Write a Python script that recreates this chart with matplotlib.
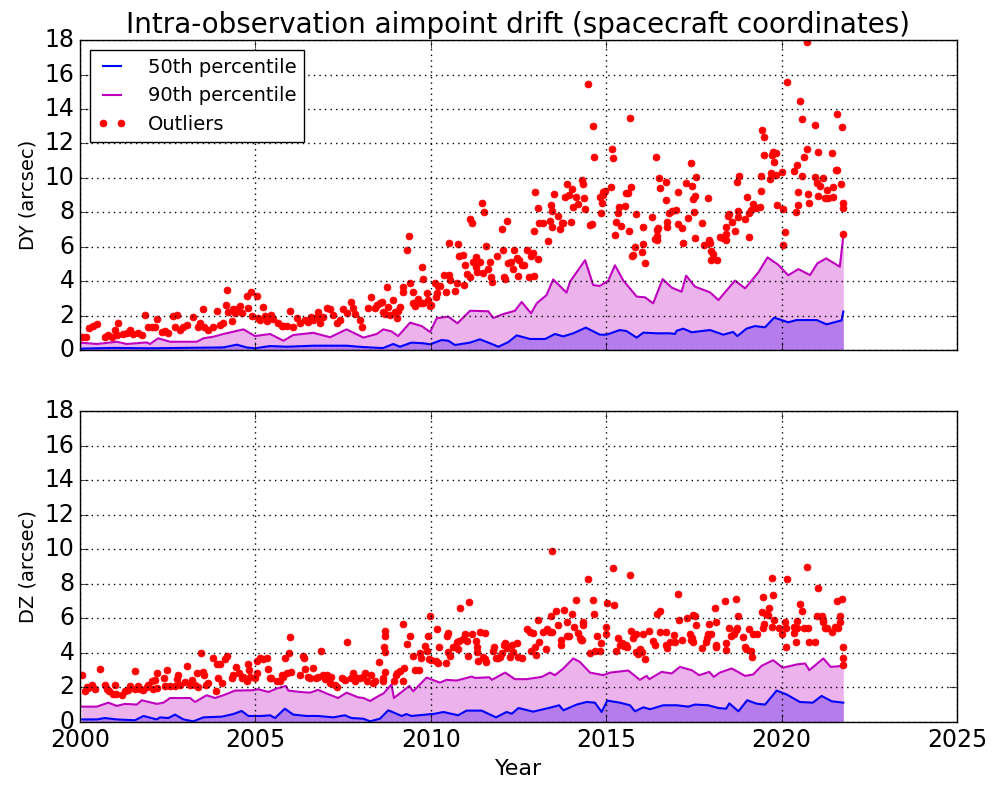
import matplotlib
matplotlib.use("Agg")
import matplotlib.pyplot as plt
import numpy as np

plt.style.use("classic")

# ---- DY (top panel) ----
dy_t90 = [2000.0, 2000.48, 2001.05, 2001.33, 2001.9, 2002.0, 2002.23, 2002.57, 2003.33, 2003.52,
          2003.8, 2004.09, 2004.66, 2004.99, 2005.42, 2005.8, 2006.08, 2006.65, 2007.13, 2007.6,
          2008.08, 2008.46, 2008.65, 2008.88, 2009.07, 2009.41, 2009.74, 2009.98, 2010.17, 2010.5,
          2010.76, 2011.12, 2011.64, 2011.78, 2012.07, 2012.4, 2012.59, 2012.86, 2013.02, 2013.3,
          2013.49, 2013.87, 2013.97, 2014.4, 2014.63, 2014.82, 2015.06, 2015.25, 2015.49, 2015.87,
          2016.11, 2016.34, 2016.61, 2016.87, 2017.15, 2017.28, 2017.53, 2017.96, 2018.2, 2018.67,
          2018.96, 2019.34, 2019.6, 2019.91, 2020.19, 2020.48, 2020.81, 2021.02, 2021.27, 2021.66,
          2021.76]
dy_p90 = [0.43, 0.35, 0.48, 0.35, 0.44, 0.35, 0.68, 0.48, 0.48, 0.68,
          0.77, 0.93, 1.20, 0.81, 0.93, 0.54, 0.87, 1.00, 0.74, 1.20,
          0.72, 0.93, 1.20, 1.08, 0.81, 1.59, 1.39, 1.05, 1.84, 1.94,
          1.55, 2.28, 2.25, 1.86, 2.09, 2.28, 2.79, 2.13, 2.71, 3.19,
          4.10, 3.33, 3.97, 5.22, 3.77, 3.72, 4.03, 4.92, 4.03, 3.10,
          3.06, 2.71, 4.12, 3.62, 3.39, 4.32, 3.68, 3.35, 2.90, 4.03,
          3.58, 4.51, 5.38, 4.94, 4.34, 4.70, 4.35, 5.03, 5.32, 4.84,
          6.62]

dy_t50 = [2000.0, 2000.95, 2002.0, 2002.85, 2004.09, 2004.47, 2004.75, 2004.99, 2005.42, 2005.89,
          2006.65, 2007.6, 2008.08, 2008.55, 2008.65, 2008.93, 2009.12, 2009.45, 2009.79, 2009.98,
          2010.31, 2010.5, 2010.69, 2011.12, 2011.4, 2011.69, 2011.93, 2012.21, 2012.45, 2012.83,
          2013.26, 2013.54, 2013.78, 2014.06, 2014.42, 2014.82, 2015.01, 2015.39, 2015.58, 2015.87,
          2016.06, 2016.44, 2016.82, 2016.96, 2017.01, 2017.2, 2017.44, 2017.96, 2018.34, 2018.62,
          2018.74, 2019.0, 2019.24, 2019.53, 2019.79, 2020.19, 2020.43, 2021.0, 2021.285, 2021.71,
          2021.76]
dy_p50 = [0.08, 0.12, 0.10, 0.12, 0.15, 0.31, 0.15, 0.10, 0.23, 0.19,
          0.25, 0.25, 0.17, 0.12, 0.12, 0.35, 0.19, 0.43, 0.39, 0.33,
          0.58, 0.54, 0.29, 0.43, 0.62, 0.39, 0.19, 0.46, 0.85, 0.64,
          0.64, 0.93, 0.79, 0.97, 1.30, 0.89, 0.89, 1.16, 1.10, 0.72,
          1.01, 0.97, 0.97, 0.93, 1.12, 1.24, 1.03, 1.16, 0.89, 1.05,
          0.81, 1.24, 1.39, 1.32, 1.88, 1.61, 1.74, 1.74, 1.49, 1.72,
          2.23]

dy_out_t = [
    2000.05, 2000.17, 2000.27, 2000.38, 2000.49, 2000.71, 2000.81, 2000.90, 2001.00, 2001.06,
    2001.09, 2001.24, 2001.33, 2001.43, 2001.52, 2001.66, 2001.76, 2001.85, 2001.95, 2002.04,
    2002.14, 2002.19, 2002.33, 2002.42, 2002.52, 2002.66, 2002.71, 2002.76, 2002.85, 2002.95,
    2003.04, 2003.23, 2003.37, 2003.42, 2003.50, 2003.53, 2003.66, 2003.80, 2003.90, 2003.99,
    2004.09, 2004.15, 2004.18, 2004.23, 2004.32, 2004.37, 2004.42, 2004.47, 2004.56, 2004.61,
    2004.75, 2004.80, 2004.87, 2004.89, 2005.04, 2005.08, 2005.13, 2005.21, 2005.27, 2005.32,
    2005.37, 2005.46, 2005.51, 2005.65, 2005.75, 2005.80, 2005.89, 2005.99, 2006.08, 2006.18,
    2006.27, 2006.41, 2006.51, 2006.60, 2006.65, 2006.75, 2006.79, 2006.84, 2006.94, 2007.03,
    2007.13, 2007.22, 2007.32, 2007.41, 2007.51, 2007.60, 2007.74, 2007.79, 2007.84, 2007.98,
    2008.03, 2008.22, 2008.31, 2008.41, 2008.46, 2008.55,
    2008.62, 2008.65, 2008.69, 2008.76, 2008.79, 2008.84, 2008.93, 2008.98, 2009.03, 2009.07,
    2009.12, 2009.22, 2009.21, 2009.33, 2009.39, 2009.41, 2009.48, 2009.50, 2009.55, 2009.64,
    2009.69, 2009.74, 2009.77, 2009.79, 2009.90, 2009.93, 2009.98, 2010.02, 2010.12, 2010.17,
    2010.16, 2010.21, 2010.26, 2010.38, 2010.43, 2010.52, 2010.53, 2010.55, 2010.69, 2010.76,
    2010.79, 2010.81, 2010.91, 2010.95, 2010.98, 2011.02, 2011.12, 2011.11, 2011.17, 2011.21,
    2011.29, 2011.30, 2011.31, 2011.40, 2011.45, 2011.50, 2011.52, 2011.57, 2011.64, 2011.69,
    2011.71, 2011.74, 2011.88, 2012.03, 2012.07, 2012.09, 2012.12, 2012.16, 2012.21, 2012.30,
    2012.35, 2012.37, 2012.45, 2012.50, 2012.52, 2012.59, 2012.66, 2012.75, 2012.81, 2012.85,
    2012.90, 2012.94, 2012.96, 2012.95, 2013.07, 2013.06, 2013.09, 2013.21, 2013.33, 2013.40,
    2013.43, 2013.45, 2013.47, 2013.52, 2013.64, 2013.68, 2013.73, 2013.78, 2013.83, 2013.89,
    2013.94, 2013.99, 2014.02, 2014.06, 2014.14, 2014.21, 2014.32, 2014.35, 2014.36, 2014.40,
    2014.49, 2014.54, 2014.61, 2014.63, 2014.65, 2014.82, 2014.84, 2014.87, 2014.90, 2014.92,
    2014.97, 2015.13, 2015.18, 2015.19, 2015.25, 2015.28, 2015.35, 2015.37, 2015.41, 2015.54,
    2015.56, 2015.63, 2015.66, 2015.68, 2015.72, 2015.73, 2015.77, 2015.83, 2015.84, 2016.01,
    2016.04, 2016.05, 2016.10, 2016.30, 2016.39, 2016.42, 2016.44, 2016.45, 2016.46, 2016.49,
    2016.51, 2016.53, 2016.70, 2016.71, 2016.72, 2016.74, 2016.80,
    2016.89, 2016.99, 2017.06, 2017.05, 2017.17, 2017.18, 2017.28, 2017.34, 2017.41, 2017.44,
    2017.47, 2017.51, 2017.55, 2017.54, 2017.53, 2017.72, 2017.79, 2017.89, 2017.94, 2017.95,
    2017.98, 2018.05, 2017.99, 2018.15, 2018.24, 2018.32, 2018.43, 2018.42, 2018.41, 2018.48,
    2018.51, 2018.58, 2018.67, 2018.72, 2018.75, 2018.77, 2018.78, 2018.96, 2019.02, 2019.06,
    2019.08, 2019.12, 2019.19, 2019.27, 2019.38, 2019.40, 2019.41, 2019.43, 2019.50, 2019.49,
    2019.67, 2019.72, 2019.71, 2019.76, 2019.78, 2019.84, 2019.85, 2019.86, 2020.00, 2020.05,
    2020.04, 2020.10, 2020.15, 2020.35, 2020.43, 2020.42, 2020.46, 2020.47, 2020.52, 2020.57,
    2020.58, 2020.65, 2020.73, 2020.76, 2020.78, 2020.72, 2020.94, 2020.95, 2021.03, 2021.02,
    2021.05, 2021.10, 2021.17, 2021.24, 2021.285, 2021.33, 2021.43, 2021.46, 2021.47, 2021.55,
    2021.57, 2021.59, 2021.68, 2021.71, 2021.74, 2021.76, 2021.745]
dy_out_v = [
    0.77, 0.77, 1.26, 1.41, 1.51, 0.77, 0.87, 0.77, 1.16, 0.87,
    1.59, 0.93, 0.97, 1.16, 0.93, 1.01, 0.89, 2.01, 1.32, 1.35,
    1.35, 1.82, 1.06, 1.12, 0.97, 1.97, 1.35, 2.01, 1.16, 1.35,
    1.45, 1.94, 1.32, 1.59, 2.36, 1.35, 1.16, 1.35, 2.28, 1.43,
    1.59, 2.59, 3.48, 2.23, 1.70, 2.36, 2.17, 2.36, 2.55, 2.13,
    3.14, 2.42, 3.35, 1.97, 3.14, 1.84, 1.74, 2.52, 1.97, 1.70,
    1.94, 2.01, 1.78, 1.55, 1.39, 1.39, 1.39, 2.28, 1.35, 1.84,
    1.59, 1.74, 1.63, 1.94, 1.74, 1.94, 2.23, 1.59, 1.94, 2.42,
    2.36, 2.03, 1.55, 1.74, 2.36, 2.13, 2.81, 2.42, 2.09, 1.74,
    1.35, 2.42, 3.06, 2.42, 2.61, 2.71,
    2.79, 2.23, 2.09, 3.64, 2.52, 2.01, 2.90, 2.23, 1.86, 2.28,
    2.52, 3.64, 3.39, 5.81, 6.62, 3.87, 3.39, 2.71, 2.55, 2.94,
    2.71, 4.80, 2.75, 4.10, 3.29, 2.90, 2.57, 2.61, 3.91, 3.29,
    3.06, 3.72, 3.74, 4.34, 3.39, 6.23, 4.34, 4.06, 3.44, 3.91,
    6.15, 5.46, 5.52, 3.77, 4.92, 4.39, 4.26, 7.59, 7.35, 5.09,
    5.42, 4.80, 4.55, 5.13, 8.52, 4.45, 7.99, 6.04, 4.72, 5.13,
    4.22, 3.97, 5.46, 7.01, 5.81, 4.26, 4.12, 7.51, 5.03, 5.13,
    4.68, 5.81, 5.32, 4.30, 5.23, 4.94, 4.94, 5.81, 4.22, 5.46,
    5.61, 4.32, 9.17, 6.93, 8.26, 5.26, 7.39, 7.39, 6.35, 7.51,
    8.44, 8.09, 7.12, 9.06, 7.78, 7.01, 7.39, 7.39, 8.90, 9.64,
    8.98, 7.45, 9.37, 8.28, 8.90, 8.48, 9.87, 9.64, 8.81, 8.19,
    15.44, 7.26, 7.32, 13.01, 11.23, 8.90, 7.97, 8.55, 9.02, 9.19,
    9.25, 9.48, 11.65, 11.15, 6.68, 7.45, 7.94, 8.28, 7.20, 8.38,
    9.10, 9.10, 6.93, 13.47, 9.44, 5.46, 5.52, 5.96, 7.90, 5.67,
    7.16, 6.15, 5.07, 7.74, 6.46, 11.23, 6.62, 6.39, 6.97, 7.06,
    9.97, 9.39, 9.77, 8.71, 7.45, 7.16, 7.97,
    8.09, 8.13, 9.15, 7.30, 7.10, 6.23, 9.68, 7.64, 10.88, 9.52,
    8.75, 8.01, 10.06, 8.94, 6.48, 7.39, 6.12, 8.81, 6.39, 6.19,
    5.77, 5.57, 5.23, 5.23, 6.54, 6.48, 6.39, 6.74, 7.16, 7.78,
    7.90, 7.45, 6.93, 9.77, 7.74, 8.09, 10.10, 7.59, 8.90, 6.54,
    7.94, 8.13, 8.46, 8.23, 8.28, 9.23, 10.12, 12.77, 12.39, 11.30,
    9.91, 11.30, 10.30, 11.48, 10.94, 11.46, 10.16, 8.42, 10.32, 8.17,
    6.10, 6.83, 15.58, 10.39, 10.74, 8.03, 8.42, 9.19, 14.48, 13.39,
    10.10, 11.19, 11.65, 9.06, 8.55, 17.90, 13.06, 10.06, 11.50, 9.72,
    8.94, 9.52, 10.01, 8.84, 9.29, 8.83, 11.42, 8.86, 9.44, 10.45,
    13.68, 10.45, 9.64, 12.93, 8.55, 8.23, 6.74]

# ---- DZ (bottom panel) ----
dz_t90 = [2000.05, 2000.48, 2000.81, 2001.05, 2001.28, 2001.62, 2001.76, 2002.19, 2002.38, 2002.57,
          2003.14, 2003.28, 2003.61, 2003.85, 2004.09, 2004.42, 2004.94, 2005.08, 2005.37, 2005.61,
          2005.87, 2005.94, 2006.27, 2006.56, 2006.79, 2007.03, 2007.36, 2007.6, 2007.93, 2008.08,
          2008.27, 2008.55, 2008.65, 2008.88, 2008.95, 2009.17, 2009.39, 2009.5, 2009.88, 2010.26,
          2010.45, 2010.74, 2011.17, 2011.26, 2011.67, 2011.74, 2012.12, 2012.4, 2012.73, 2013.16,
          2013.4, 2013.54, 2013.78, 2014.06, 2014.25, 2014.54, 2014.92, 2015.11, 2015.63, 2015.96,
          2016.15, 2016.23, 2016.58, 2016.87, 2017.1, 2017.44, 2017.65, 2017.94, 2018.07, 2018.24,
          2018.58, 2018.96, 2019.19, 2019.43, 2019.76, 2020.03, 2020.43, 2020.67, 2020.79, 2021.19,
          2021.4, 2021.76]
dz_p90 = [0.89, 0.89, 1.12, 0.93, 1.05, 1.01, 1.26, 1.05, 1.12, 1.39,
          1.39, 1.16, 1.55, 1.39, 1.55, 1.82, 1.84, 1.90, 1.74, 1.94,
          2.09, 1.82, 1.74, 1.70, 1.86, 1.65, 1.39, 1.70, 1.43, 1.39,
          1.22, 1.55, 1.65, 2.17, 1.39, 1.74, 2.09, 1.78, 2.57, 2.28,
          2.44, 2.40, 2.63, 2.55, 2.59, 2.44, 2.86, 2.48, 2.48, 2.61,
          2.86, 2.71, 3.10, 3.68, 3.48, 2.86, 2.71, 2.86, 2.98, 2.44,
          2.67, 2.48, 2.90, 2.81, 3.19, 3.00, 2.71, 2.90, 2.61, 2.86,
          3.10, 2.67, 2.75, 3.25, 3.58, 3.14, 3.33, 3.39, 3.00, 3.68,
          3.19, 3.25]

dz_t50 = [2000.05, 2000.48, 2000.71, 2001.05, 2001.57, 2001.81, 2002.19, 2002.28, 2002.52, 2002.71,
          2002.95, 2003.23, 2003.52, 2004.04, 2004.37, 2004.61, 2004.8, 2005.18, 2005.42, 2005.56,
          2005.84, 2006.08, 2006.46, 2006.79, 2007.22, 2007.55, 2007.74, 2008.08, 2008.27, 2008.55,
          2008.79, 2009.17, 2009.31, 2009.45, 2010.12, 2010.36, 2010.78, 2011.02, 2011.45, 2011.86,
          2012.16, 2012.31, 2012.5, 2012.92, 2013.4, 2013.66, 2013.78, 2014.16, 2014.44, 2014.68,
          2014.87, 2015.03, 2015.39, 2015.68, 2015.82, 2016.06, 2016.25, 2016.63, 2017.01, 2017.34,
          2017.53, 2017.91, 2018.2, 2018.42, 2018.51, 2018.77, 2019.02, 2019.29, 2019.53, 2019.86,
          2020.15, 2020.52, 2020.89, 2021.14, 2021.43, 2021.76]
dz_p50 = [0.15, 0.15, 0.23, 0.15, 0.10, 0.35, 0.15, 0.27, 0.23, 0.43,
          0.15, 0.04, 0.27, 0.31, 0.46, 0.64, 0.35, 0.35, 0.39, 0.23,
          0.77, 0.43, 0.35, 0.35, 0.27, 0.39, 0.23, 0.19, 0.04, 0.19,
          0.68, 0.35, 0.46, 0.35, 0.48, 0.58, 0.39, 0.66, 0.66, 0.27,
          0.58, 0.48, 0.81, 0.60, 0.83, 0.97, 0.68, 1.01, 1.16, 1.12,
          0.58, 1.24, 1.12, 0.97, 0.62, 0.85, 0.74, 0.97, 0.97, 0.89,
          1.01, 0.97, 0.81, 0.77, 1.08, 0.62, 1.26, 1.06, 1.01, 1.82,
          1.59, 1.16, 1.12, 1.51, 1.20, 1.12]

dz_out_t = [
    2000.05, 2000.14, 2000.19, 2000.24, 2000.33, 2000.43, 2000.57, 2000.71, 2000.76, 2000.84,
    2000.95, 2001.00, 2001.03, 2001.19, 2001.28, 2001.38, 2001.43, 2001.57, 2001.58, 2001.66,
    2001.71, 2001.81, 2001.90, 2001.95, 2002.04, 2002.09, 2002.14, 2002.19, 2002.20, 2002.39,
    2002.42, 2002.47, 2002.57, 2002.71, 2002.76, 2002.80, 2002.85, 2002.99, 2003.06, 2003.14,
    2003.18, 2003.28, 2003.33, 2003.37, 2003.44, 2003.52, 2003.53, 2003.59, 2003.66, 2003.78,
    2003.88, 2003.91, 2003.94, 2003.99, 2004.04, 2004.13, 2004.20, 2004.32, 2004.37, 2004.45,
    2004.54, 2004.61, 2004.66, 2004.75, 2004.78, 2004.83, 2004.85, 2004.99, 2005.04, 2005.06,
    2005.13, 2005.23, 2005.32, 2005.37, 2005.42, 2005.46, 2005.61, 2005.70, 2005.75, 2005.80,
    2005.84, 2005.89, 2005.97, 2005.99, 2006.03, 2006.27, 2006.35, 2006.39, 2006.41, 2006.51,
    2006.56, 2006.65, 2006.73, 2006.79, 2006.86, 2006.92, 2006.98, 2007.03, 2007.13, 2007.15,
    2007.27, 2007.32, 2007.46, 2007.55, 2007.60, 2007.74, 2007.79, 2007.84, 2007.89, 2007.98,
    2008.06, 2008.12, 2008.17, 2008.31, 2008.36, 2008.41, 2008.53,
    2008.63, 2008.65, 2008.69, 2008.70, 2008.68, 2008.70, 2008.69, 2008.95, 2009.01, 2009.03,
    2009.12, 2009.20, 2009.22, 2009.23, 2009.33, 2009.41, 2009.48, 2009.55, 2009.67, 2009.68,
    2009.71, 2009.83, 2009.90, 2009.98, 2009.93, 2009.96, 2010.02, 2010.17, 2010.16, 2010.21,
    2010.24, 2010.43, 2010.45, 2010.50, 2010.49, 2010.55, 2010.62, 2010.76, 2010.78, 2010.83,
    2010.81, 2010.91, 2010.98, 2011.02, 2011.07, 2011.10, 2011.17, 2011.29, 2011.31, 2011.33,
    2011.36, 2011.40, 2011.48, 2011.55, 2011.54, 2011.57, 2011.78, 2011.80, 2011.86, 2011.93,
    2011.97, 2012.02, 2012.09, 2012.12, 2012.16, 2012.26, 2012.31, 2012.35, 2012.45, 2012.50,
    2012.59, 2012.75, 2012.83, 2012.86, 2012.92, 2012.97, 2013.00, 2013.07, 2013.09, 2013.21,
    2013.28, 2013.30, 2013.40, 2013.45, 2013.44, 2013.47, 2013.57, 2013.64, 2013.70, 2013.71,
    2013.81, 2013.87, 2013.89, 2013.95, 2014.04, 2014.08, 2014.14, 2014.21, 2014.25, 2014.27,
    2014.30, 2014.33, 2014.35, 2014.49, 2014.54, 2014.63, 2014.64, 2014.68, 2014.75, 2014.82,
    2014.84, 2014.99, 2015.00, 2015.03, 2015.20, 2015.21, 2015.28, 2015.35, 2015.39, 2015.44,
    2015.51, 2015.56, 2015.60, 2015.68, 2015.72, 2015.77, 2015.84, 2015.85, 2015.92, 2015.96,
    2016.01, 2016.06, 2016.11, 2016.23, 2016.34, 2016.39, 2016.46, 2016.53, 2016.54, 2016.70,
    2016.71, 2016.74, 2016.82,
    2016.93, 2016.96, 2017.06, 2017.08, 2017.17, 2017.31, 2017.39, 2017.41, 2017.44, 2017.47,
    2017.48, 2017.53, 2017.56, 2017.72, 2017.85, 2017.86, 2017.91, 2017.94, 2017.98, 2018.10,
    2018.13, 2018.12, 2018.14, 2018.40, 2018.43, 2018.42, 2018.49, 2018.57, 2018.64, 2018.70,
    2018.71, 2018.74, 2018.77, 2018.91, 2018.96, 2019.00, 2019.08, 2019.12, 2019.15, 2019.19,
    2019.29, 2019.43, 2019.46, 2019.48, 2019.50, 2019.56, 2019.62, 2019.65, 2019.72, 2019.75,
    2019.74, 2019.78, 2019.94, 2020.00, 2020.10, 2020.13, 2020.15, 2020.14, 2020.35, 2020.36,
    2020.43, 2020.42, 2020.45, 2020.52, 2020.57, 2020.64, 2020.72, 2020.76, 2020.79, 2020.94,
    2021.00, 2021.05, 2021.14, 2021.17, 2021.19, 2021.24, 2021.285, 2021.43, 2021.52, 2021.57,
    2021.62, 2021.67, 2021.66, 2021.71, 2021.76, 2021.75, 2021.74]
dz_out_v = [
    2.71, 1.78, 2.03, 1.97, 2.17, 1.90, 3.06, 2.17, 1.90, 1.78,
    1.65, 2.13, 1.65, 1.59, 1.78, 1.84, 2.09, 2.94, 1.90, 2.09,
    1.90, 1.84, 2.01, 2.17, 2.36, 1.90, 2.42, 2.81, 1.94, 2.52,
    2.09, 3.00, 2.09, 2.09, 2.48, 2.71, 2.17, 2.32, 3.25, 2.17,
    2.42, 2.17, 2.81, 2.03, 3.97, 2.90, 2.71, 2.17, 2.23, 3.72,
    1.78, 3.35, 2.55, 3.35, 2.23, 3.64, 3.81, 2.55, 2.75, 3.17,
    2.81, 2.52, 2.61, 2.36, 3.33, 3.00, 2.61, 2.52, 2.86, 3.52,
    3.68, 3.64, 3.68, 3.06, 2.52, 2.52, 2.36, 2.40, 2.75, 2.61,
    3.72, 2.81, 3.97, 4.94, 2.90, 2.71, 3.81, 3.68, 3.06, 2.61,
    2.52, 3.14, 2.52, 2.61, 4.10, 2.71, 2.48, 2.71, 2.23, 2.61,
    2.17, 2.03, 2.55, 2.42, 4.64, 2.52, 2.81, 2.36, 2.52, 2.52,
    2.61, 2.81, 2.36, 2.75, 2.23, 2.36, 3.48,
    2.52, 2.36, 4.99, 5.26, 4.35, 4.03, 2.90, 2.36, 2.71, 2.81,
    2.94, 2.36, 5.67, 3.14, 4.49, 4.99, 3.83, 3.00, 3.00, 3.97,
    3.72, 4.41, 4.10, 6.15, 4.99, 3.64, 3.58, 5.38, 3.52, 3.44,
    4.35, 3.44, 4.99, 5.13, 4.06, 3.83, 4.35, 4.64, 4.22, 6.58,
    4.68, 4.80, 5.07, 4.68, 3.83, 6.97, 5.07, 4.68, 4.34, 4.03,
    3.52, 5.23, 3.77, 5.13, 3.64, 3.48, 4.10, 4.35, 3.68, 3.68,
    3.77, 3.97, 4.45, 4.55, 4.30, 3.77, 4.45, 4.06, 4.55, 3.77,
    3.72, 5.38, 5.19, 4.10, 5.13, 4.35, 3.87, 5.90, 4.61, 5.23,
    4.22, 5.38, 5.23, 9.91, 6.12, 5.19, 6.43, 5.61, 4.74, 4.45,
    6.48, 5.77, 4.99, 4.99, 6.23, 5.52, 7.06, 5.13, 4.84, 4.74,
    4.74, 5.77, 5.61, 8.28, 3.97, 7.06, 6.23, 4.10, 4.95, 4.10,
    4.57, 5.52, 5.07, 6.87, 8.90, 6.77, 4.10, 4.84, 4.45, 4.55,
    4.41, 4.45, 4.35, 8.48, 5.28, 4.88, 5.07, 4.03, 3.91, 4.22,
    4.06, 5.07, 3.64, 5.26, 4.68, 4.45, 6.23, 6.43, 5.19, 5.19,
    4.45, 4.26, 4.64,
    5.03, 4.61, 7.43, 5.90, 4.72, 6.00, 5.07, 4.74, 4.84, 4.61,
    6.19, 6.15, 5.61, 4.26, 4.64, 4.84, 5.07, 5.65, 5.11, 6.58,
    4.45, 4.35, 5.81, 7.01, 4.57, 4.16, 5.42, 4.97, 5.07, 7.10,
    5.32, 5.42, 6.15, 4.92, 4.35, 4.22, 5.38, 4.10, 3.77, 5.07,
    5.07, 6.35, 7.26, 5.46, 5.65, 6.23, 6.19, 6.58, 8.32, 7.35,
    5.52, 5.90, 5.46, 5.07, 5.81, 5.42, 8.26, 4.35, 5.52, 5.13,
    5.84, 4.64, 5.46, 6.81, 6.43, 5.42, 8.98, 5.42, 4.64, 4.64,
    6.15, 7.74, 6.15, 5.77, 5.90, 5.42, 5.46, 5.19, 5.52, 7.01,
    5.42, 5.81, 6.15, 7.12, 4.35, 3.72, 3.29]

panels = [
    ("DY (arcsec)", dy_t50, dy_p50, dy_t90, dy_p90, dy_out_t, dy_out_v),
    ("DZ (arcsec)", dz_t50, dz_p50, dz_t90, dz_p90, dz_out_t, dz_out_v),
]

fig = plt.figure(figsize=(9.92, 7.86), dpi=100, facecolor="white")
ax_top = fig.add_axes([0.0806, 0.5547, 0.8841, 0.3943])
ax_bot = fig.add_axes([0.0806, 0.0814, 0.8841, 0.3957])

for ax, (ylab, t50, p50, t90, p90, ot, ov) in zip([ax_top, ax_bot], panels):
    ax.set_facecolor("white")
    # median band underneath, 90th band blended over it
    ax.fill_between(t50, 0, p50, color="b", alpha=0.3, linewidth=0)
    ax.fill_between(t90, 0, p90, color="m", alpha=0.3, linewidth=0)
    ax.plot(t50, p50, "b-", lw=1.5, label="50th percentile")
    ax.plot(t90, p90, "m-", lw=1.5, label="90th percentile")
    ax.plot(ot, ov, "r.", ms=10, mec="r", label="Outliers")
    ax.set_xlim(2000, 2025)
    ax.set_ylim(0, 18)
    ax.set_yticks(np.arange(0, 19, 2))
    ax.set_xticks(np.arange(2000, 2026, 5))
    ax.xaxis.get_major_formatter().set_useOffset(False)
    ax.grid(True, color="k", linestyle=":", linewidth=1)
    ax.tick_params(labelsize=17, length=6)
    ax.set_ylabel(ylab, fontsize=14)

ax_top.set_xticklabels([])
ax_top.set_title("Intra-observation aimpoint drift (spacecraft coordinates)", fontsize=20)
ax_top.legend(loc="upper left", fontsize=14, handlelength=1.5, handletextpad=1.1,
              numpoints=2)
ax_bot.set_xlabel("Year", fontsize=16)

fig.savefig("out.png", dpi=100, facecolor="white")
